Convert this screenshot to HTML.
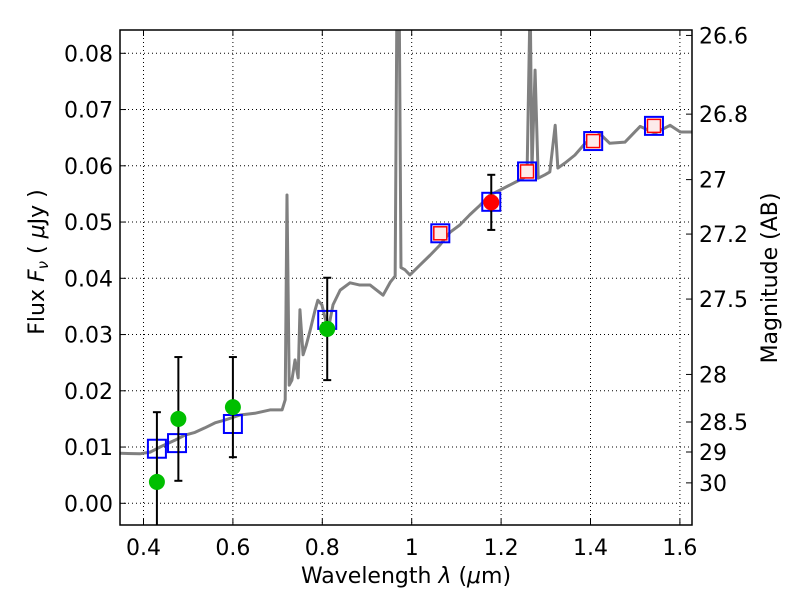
<!DOCTYPE html>
<html><head><meta charset="utf-8"><style>
body{margin:0;background:#fff}
svg{display:block;font-family:"DejaVu Sans","Liberation Sans",sans-serif}
</style></head><body>
<svg id="chart" width="800" height="600" viewBox="0 0 800 600" xmlns="http://www.w3.org/2000/svg">
<rect width="800" height="600" fill="#fff"/>
<g id="grid"></g>
<g id="spec"></g>
<g id="marks"></g>
<g id="axes"></g>
<text x="406" y="583" font-size="22" text-anchor="middle">Wavelength  <tspan font-style="italic">λ</tspan> (<tspan font-style="italic">μ</tspan>m)</text>
<text transform="translate(44,262) rotate(-90)" font-size="22" text-anchor="middle">Flux  <tspan font-style="italic">F</tspan><tspan font-style="italic" font-size="15" dy="4">ν</tspan><tspan dy="-4">  ( </tspan><tspan font-style="italic">μ</tspan>Jy )</text>
<text transform="translate(777,278) rotate(-90)" font-size="22" text-anchor="middle">Magnitude (AB)</text>
</svg>
<script>
const specLam=[0.347,0.392,0.415,0.437,0.470,0.492,0.515,0.537,0.560,0.582,0.616,0.649,0.683,0.710,0.717,0.721,0.726,0.732,0.739,0.746,0.750,0.757,0.764,0.773,0.784,0.790,0.799,0.813,0.824,0.840,0.862,0.884,0.907,0.936,0.952,0.963,0.967,0.972,0.976,0.985,0.996,1.019,1.041,1.063,1.086,1.108,1.130,1.153,1.175,1.198,1.220,1.242,1.258,1.265,1.269,1.276,1.283,1.298,1.309,1.321,1.327,1.343,1.365,1.388,1.421,1.443,1.477,1.511,1.544,1.578,1.601,1.627];
const specFlux=[0.0089,0.0088,0.0091,0.0100,0.0112,0.0121,0.0126,0.0134,0.0143,0.0148,0.0157,0.0160,0.0166,0.0166,0.0184,0.0548,0.0210,0.0219,0.0255,0.0223,0.0344,0.0264,0.0281,0.0308,0.0344,0.0361,0.0353,0.0308,0.0353,0.0379,0.0392,0.0388,0.0388,0.0370,0.0393,0.0404,0.0900,0.0900,0.0419,0.0415,0.0406,0.0424,0.0441,0.0459,0.0482,0.0495,0.0513,0.0530,0.0548,0.0557,0.0566,0.0575,0.0582,0.0900,0.0592,0.0770,0.0578,0.0584,0.0589,0.0672,0.0596,0.0605,0.0619,0.0640,0.0657,0.0640,0.0642,0.0670,0.0658,0.0672,0.0660,0.0660];
const modelLam=[0.430,0.475,0.600,0.811,1.064,1.178,1.258,1.406,1.542];
const modelFlux=[0.0097,0.0107,0.0141,0.0326,0.0480,0.0536,0.0590,0.0644,0.0671];
const redSqLam=[1.064,1.258,1.406,1.542];
const redSqFlux=[0.0480,0.0590,0.0644,0.0671];
const obsLam=[0.430,0.478,0.600,0.811];
const obsFlux=[0.0038,0.0150,0.0171,0.0310];
const obsErr=[0.0124,0.0110,0.0089,0.0091];
const redLam=[1.178];const redFlux=[0.0535];const redErr=[0.0049];
const xTicks=[0.4,0.6,0.8,1.0,1.2,1.4,1.6];
const xTickLabels=["0.4","0.6","0.8","1","1.2","1.4","1.6"];
const yTicks=[0,0.01,0.02,0.03,0.04,0.05,0.06,0.07,0.08];
const yTickLabels=["0.00","0.01","0.02","0.03","0.04","0.05","0.06","0.07","0.08"];
const magTicks=[26.6,26.8,27,27.2,27.5,28,28.5,29,30];
const magLabels=["26.6","26.8","27","27.2","27.5","28","28.5","29","30"];

const L=120,R=692,T=30,B=525;
const X=v=>143.5+(v-0.4)*447;
const Y=v=>503.3-v*5625;
const NS="http://www.w3.org/2000/svg";
function mk(tag,attrs,parent){const e=document.createElementNS(NS,tag);for(const k in attrs)e.setAttribute(k,attrs[k]);parent.appendChild(e);return e;}
const grid=document.getElementById('grid'),axes=document.getElementById('axes'),spec=document.getElementById('spec'),marks=document.getElementById('marks');

xTicks.forEach((t,i)=>{const x=X(t);
 const g=mk('line',{x1:x,x2:x,y1:T,y2:B,stroke:'#000','stroke-width':1,'stroke-dasharray':'1,3'},grid);
 
 mk('line',{x1:x,x2:x,y1:B,y2:B-6,stroke:'#000'},axes);
 mk('line',{x1:x,x2:x,y1:T,y2:T+6,stroke:'#000'},axes);
 const tx=mk('text',{x:x,y:B+30,'font-size':22,'text-anchor':'middle'},axes);tx.textContent=xTickLabels[i];
 
});
yTicks.forEach((t,i)=>{const y=Y(t);
 const g=mk('line',{x1:L,x2:R,y1:y,y2:y,stroke:'#000','stroke-width':1,'stroke-dasharray':'1,3'},grid);
 
 mk('line',{x1:L,x2:L+6,y1:y,y2:y,stroke:'#000'},axes);
 const tx=mk('text',{x:L-7,y:y+8,'font-size':22,'text-anchor':'end'},axes);tx.textContent=yTickLabels[i];
 
});
magTicks.forEach((m,i)=>{const y=Y(Math.pow(10,(23.9-m)/2.5));
 mk('line',{x1:R,x2:R-6,y1:y,y2:y,stroke:'#000'},axes);
 const tx=mk('text',{x:R+7,y:y+8,'font-size':22},axes);tx.textContent=magLabels[i];
 
});

const defs=mk('defs',{},document.getElementById('chart'));
const cp=mk('clipPath',{id:'clip'},defs);mk('rect',{x:L,y:T,width:R-L,height:B-T},cp);
spec.setAttribute('clip-path','url(#clip)');marks.setAttribute('clip-path','url(#clip)');
const pth=mk('polyline',{points:specLam.map((l,i)=>X(l)+','+Y(specFlux[i])).join(' '),fill:'none',stroke:'#808080','stroke-width':3,'stroke-linejoin':'round'},spec);


function errbar(l,f,e){const x=X(l);
 mk('line',{x1:x,x2:x,y1:Y(f+e),y2:Y(f-e),stroke:'#000','stroke-width':2},marks);
 mk('line',{x1:x-4,x2:x+4,y1:Y(f+e),y2:Y(f+e),stroke:'#000','stroke-width':2},marks);
 mk('line',{x1:x-4,x2:x+4,y1:Y(f-e),y2:Y(f-e),stroke:'#000','stroke-width':2},marks);}
modelLam.forEach((l,i)=>{const s=mk('rect',{x:X(l)-9,y:Y(modelFlux[i])-9,width:18,height:18,fill:'none',stroke:'#0000ff','stroke-width':2},marks);
 });
redSqLam.forEach((l,i)=>{const s=mk('rect',{x:X(l)-6.5,y:Y(redSqFlux[i])-6.5,width:13,height:13,fill:'#fdeaea',stroke:'#ff0000','stroke-width':1.5},marks);
 });
obsLam.forEach((l,i)=>{errbar(l,obsFlux[i],obsErr[i]);
 const c=mk('circle',{cx:X(l),cy:Y(obsFlux[i]),r:8,fill:'#00bf00'},marks);
 });
redLam.forEach((l,i)=>{errbar(l,redFlux[i],redErr[i]);
 const c=mk('circle',{cx:X(l),cy:Y(redFlux[i]),r:8,fill:'#ff0000'},marks);
 });
const fr=mk('rect',{x:L,y:T,width:R-L,height:B-T,fill:'none',stroke:'#000','stroke-width':1.5},axes);

</script>
</body></html>
